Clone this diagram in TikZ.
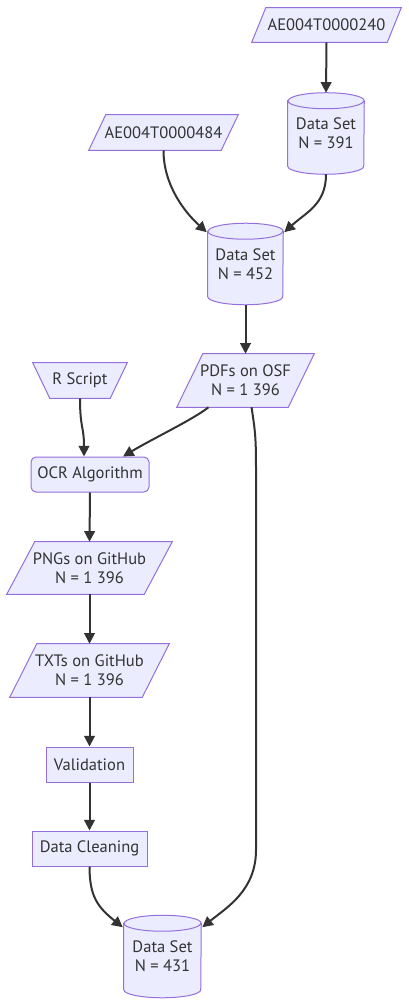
\documentclass[tikz,border=0pt]{standalone}
\usepackage{fontspec}
\setmainfont{PT Sans}
\usetikzlibrary{calc,arrows.meta,backgrounds}
\definecolor{nfill}{HTML}{ECECFF}
\definecolor{nline}{HTML}{9370DB}
\definecolor{ecol}{HTML}{333333}
\definecolor{tcol}{HTML}{333333}
\newcommand\mycyl[2]{%
  \path[shp] ($(#1.north west)+(0,8)$) -- ($(#1.south west)+(0,-8)$)
    arc[start angle=180,end angle=360,x radius=#2,y radius=6pt]
    -- ($(#1.north east)+(0,8)$)
    arc[start angle=0,end angle=180,x radius=#2,y radius=6pt] -- cycle;
  \draw[nline,line width=0.75pt] ($(#1.north west)+(0,8)$)
    arc[start angle=180,end angle=360,x radius=#2,y radius=6pt];
}
\newcommand\mypar[2]{%
  \path[shp] ($(#1.south west)+(-#2,0)$) -- ($(#1.north west)+(#2,0)$)
    -- ($(#1.north east)+(#2,0)$) -- ($(#1.south east)+(-#2,0)$) -- cycle;
}
\begin{document}
\begin{tikzpicture}[x=0.75pt,y=-0.75pt,
  lbl/.style={inner sep=0pt, align=center, text=tcol, font=\fontsize{12.4}{14.2}\selectfont},
  shp/.style={fill=nfill, draw=nline, line width=0.75pt},
  boxnode/.style={lbl, shp, rectangle},
  edge/.style={draw=ecol, line width=1.5pt, -{Triangle[length=8pt,width=8pt]}},
]
\useasboundingbox (0,0) rectangle (409,1005);

\node[lbl, minimum width=101.25pt, minimum height=25.5pt] (a240) at (326.5,25) {AE004T0000240};
\node[lbl, minimum width=57pt, minimum height=60.75pt] (n391) at (326,133.5) {Data Set\\N = 391};
\node[lbl, minimum width=99pt, minimum height=26.25pt] (a484) at (163.5,132.5) {AE004T0000484};
\node[lbl, minimum width=56.25pt, minimum height=60.75pt] (n452) at (245.5,264) {Data Set\\N = 452};
\node[lbl, minimum width=57.75pt, minimum height=26.25pt] (rs) at (80,380.5) {R Script};
\node[lbl, minimum width=83.25pt, minimum height=39.75pt] (pdf) at (245.5,380.5) {PDFs on OSF\\N = 1 396};
\node[boxnode, rounded corners=3.75pt, minimum width=88.5pt, minimum height=26.25pt] (ocr) at (90,474.5) {OCR Algorithm};
\node[lbl, minimum width=102.75pt, minimum height=39pt] (png) at (89.5,568) {PNGs on GitHub\\N = 1 396};
\node[lbl, minimum width=99pt, minimum height=39.75pt] (txt) at (89.5,670.5) {TXTs on GitHub\\N = 1 396};
\node[boxnode, minimum width=65.25pt, minimum height=26.25pt] (val) at (89.5,764.5) {Validation};
\node[boxnode, minimum width=86.25pt, minimum height=26.25pt] (dc) at (89.5,848.5) {Data Cleaning};
\node[lbl, minimum width=57.75pt, minimum height=61.5pt] (n431) at (162.5,956.5) {Data Set\\N = 431};

\begin{scope}[on background layer]
  \fill[white] (0,0) rectangle (409,1005);
  \mypar{a240}{7}
  \mypar{a484}{8.5}
  \mypar{pdf}{13}
  \mypar{png}{14}
  \mypar{txt}{13.5}
  \path[shp] ($(rs.north west)+(-8.5,0)$) -- ($(rs.north east)+(8.5,0)$)
    -- ($(rs.south east)+(-8.5,0)$) -- ($(rs.south west)+(8.5,0)$) -- cycle;
  \mycyl{n391}{28.5pt}
  \mycyl{n452}{28.125pt}
  \mycyl{n431}{28.875pt}
\end{scope}

\coordinate (w1) at (256,470);
\coordinate (w2) at (256,850);

\draw[edge] (a240.south) -- (n391.north);
\draw[edge] (n391.south) .. controls +(0,30) and +(22,-20) .. ($(n452.north east)+(1,9)$);
\draw[edge] (a484.south) .. controls +(0,35) and +(-22,-20) .. ($(n452.north west)+(-1,9)$);
\draw[edge] (n452.south) -- (pdf.north);
\draw[edge] ($(pdf.south)+(-37,0)$) .. controls +(-15,12) and +(30,-18) .. ($(ocr.north)+(33,0)$);
\draw[edge] (rs.south) .. controls +(0,30) and +(0,-30) .. ($(ocr.north)+(-6,0)$);
\draw[edge] ($(pdf.south)+(6,0)$) .. controls +(4,25) and +(0,-30) .. (w1) -- (w2)
  .. controls +(0,40) and +(25,-20) .. ($(n431.north east)+(1,12)$);
\draw[edge] (ocr.south) -- (png.north);
\draw[edge] (png.south) -- (txt.north);
\draw[edge] (txt.south) -- (val.north);
\draw[edge] (val.south) -- (dc.north);
\draw[edge] (dc.south) .. controls +(0,30) and +(-25,-20) .. ($(n431.north west)+(-1,12)$);
\end{tikzpicture}
\end{document}
